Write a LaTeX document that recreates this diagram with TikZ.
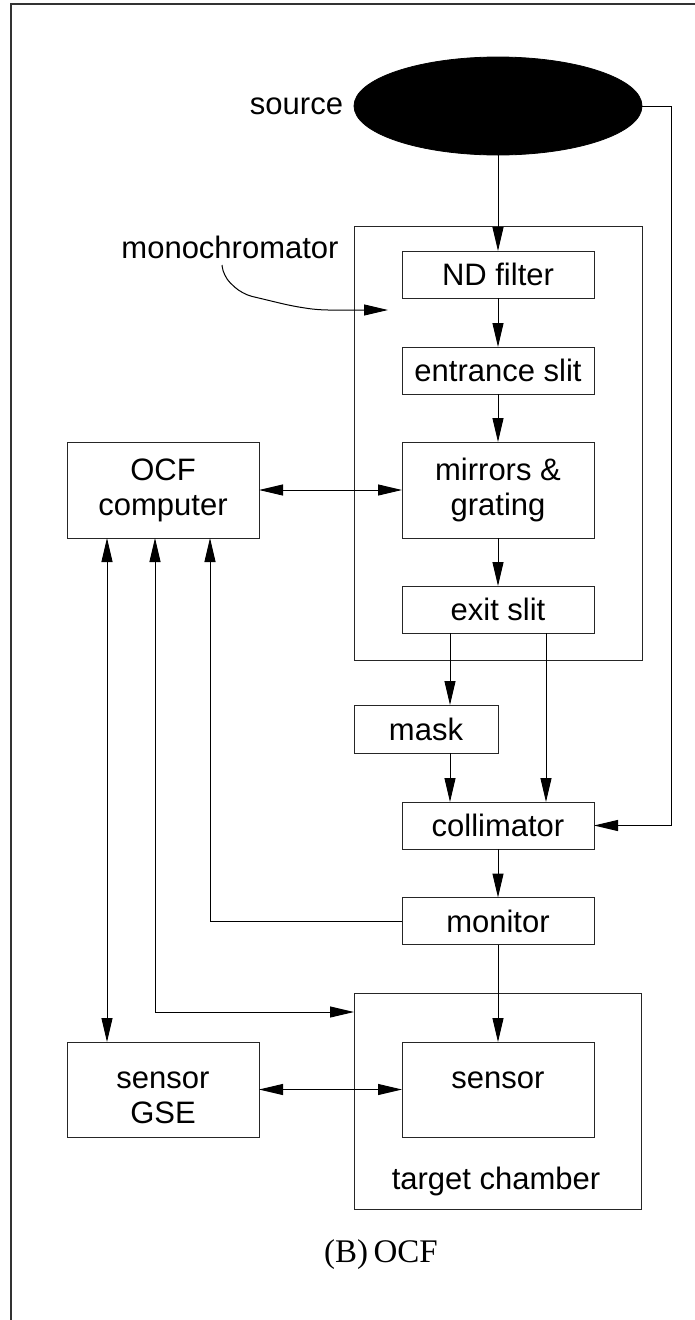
\documentclass[tikz,border=0pt]{standalone}
\usepackage{fontspec}
\setmainfont{Liberation Sans}
\newfontfamily\capfont{Liberation Serif}
\usetikzlibrary{arrows.meta,shapes.geometric}
\begin{document}
\begin{tikzpicture}[x=1pt,y=-1pt,
  box/.style={draw=black!85, line width=1pt, minimum width=192pt, minimum height=47pt,
    inner sep=0pt, outer sep=0pt, align=center, font=\fontsize{31}{35}\selectfont},
  lbl/.style={inner sep=0pt, outer sep=0pt, align=center, font=\fontsize{31}{35}\selectfont},
  conn/.style={line width=1pt, black},
  arr/.style={conn, -{Triangle[length=24pt,width=11pt]}},
  dbl/.style={conn, {Triangle[length=24pt,width=11pt]}-{Triangle[length=24pt,width=11pt]}}
]
\useasboundingbox (0,0) rectangle (695,1320);
% frame
\draw[line width=1.2pt, black!80] (11,1320) -- (11,4) -- (695,4);

% source
\node[ellipse, draw=black, fill=black, line width=0.8pt, minimum width=288pt, minimum height=98pt,
  inner sep=0pt, outer sep=0pt] (source) at (498,106) {};
\node[lbl, anchor=east] (sourcelbl) at (343,106) {source};

% monochromator enclosure
\node[box, minimum width=288pt, minimum height=434pt] (mono) at (498,443) {};
\node[lbl] (monolbl) at (230,247) {monochromator};
\coordinate (mtail) at (222,265);
\coordinate (mhead) at (388,310);
\draw[arr, rounded corners=10pt] (mtail) -- (223,276) -- (242,294) -- (292,306) -- (318,310) -- (mhead);

\node[box] (nd) at (498,274.5) {ND filter};
\node[box] (ent) at (498,370.5) {entrance slit};
\node[box, minimum height=96pt] (mir) at (498,490) {mirrors \&\\grating};
\node[box] (exit) at (498,609.5) {exit slit};

\node[box, minimum width=144pt, minimum height=48pt] (mask) at (426,729) {mask};
\node[box] (coll) at (498,825.5) {collimator};
\node[box] (monitor) at (498,921) {monitor};

% target chamber
\node[box, minimum width=287pt, minimum height=216pt] (chamber) at (497.5,1101) {};
\node[box, minimum height=95pt] (sensor) at (498,1089.5) {};
\node[lbl] (sensorlbl) at (498,1080) {sensor};
\node[lbl] (chamberlbl) at (496,1181) {target chamber};

% left boxes
\node[box, minimum height=96pt] (ocf) at (163,490) {OCF\\computer};
\node[box, minimum height=95pt] (gse) at (163,1089.5) {};
\node[lbl] (gselbl) at (163,1097.5) {sensor\\GSE};

% caption
\node[inner sep=0pt, font=\capfont\fontsize{33}{38}\selectfont] (caption) at (381,1255) {(B)\,OCF};

% optical path
\coordinate (rt) at (671,106);
\draw[arr] (source.south) -- (nd.north);
\draw[arr] (source.east) -- (rt) |- (coll.east);
\draw[arr] (nd.south) -- (ent.north);
\draw[arr] (ent.south) -- (mir.north);
\draw[arr] (mir.south) -- (exit.north);
\draw[arr] ([xshift=-48pt]exit.south) -- ([xshift=24pt]mask.north);
\draw[arr] ([xshift=24pt]mask.south) -- ([xshift=-48pt]coll.north);
\draw[arr] ([xshift=48pt]exit.south) -- ([xshift=48pt]coll.north);
\draw[arr] (coll.south) -- (monitor.north);
\draw[arr] (monitor.south) -- (sensor.north);

% control links
\draw[dbl] (ocf.east) -- (mir.west);
\draw[dbl] (gse.east) -- (sensor.west);
\draw[dbl] ([xshift=-56pt]ocf.south) -- ([xshift=-56pt]gse.north);
\draw[dbl] ([xshift=-8pt]ocf.south) |- ([yshift=-19pt]chamber.north west);
\draw[arr] (monitor.west) -| ([xshift=47pt]ocf.south);
\end{tikzpicture}
\end{document}
